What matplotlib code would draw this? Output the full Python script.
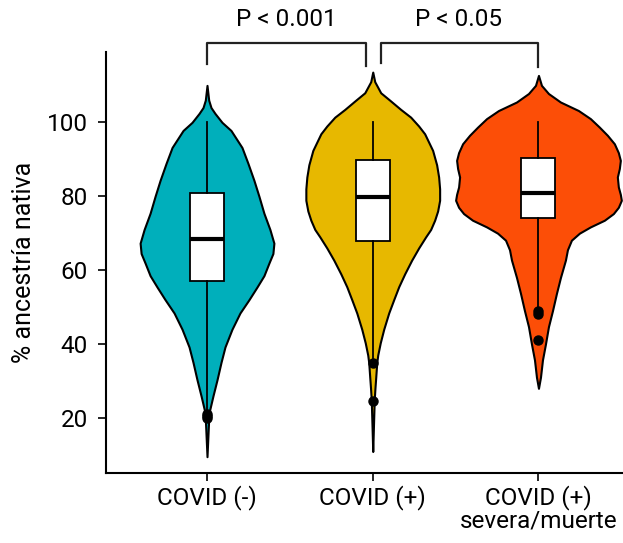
import matplotlib
matplotlib.use("Agg")
import matplotlib.pyplot as plt

plt.rcParams['font.family'] = ['Roboto', 'DejaVu Sans']

# Categories and colours
groups = ["COVID (-)", "COVID (+)", "COVID (+)\nsevera/muerte"]
colors = ["#00AFBB", "#E7B800", "#FC4E07"]

# Violin outlines: value, relative half-width
v1_y = [110.0, 106, 104, 102.4, 100, 97.8, 93.2, 88.9, 84.3, 80, 75.4, 71, 67.3, 64.5,
        61.9, 58.5, 55.4, 52, 48.4, 44, 39.2, 35, 30.3, 26, 21.4, 16.8, 9.5]
v1_w = [0, 1.7, 4, 8, 15, 24, 35, 41, 47, 52, 57, 63, 67, 66,
        62, 57, 50, 42, 33, 25, 18, 14, 10, 6, 2, 1.2, 0]
v2_y = [113.6, 111, 110.5, 108, 106, 103.5, 101.4, 99, 96.9, 92.4, 88.5, 85.2, 82, 78.9,
        76, 73.5, 71, 69.0, 66, 62.7, 59, 55.5, 52, 48.4, 44, 40.3, 37, 34.9, 31, 28,
        24.9, 17.6, 10.9]
v2_w = [0, 2, 3, 8, 17, 28, 38, 46, 52, 60, 64, 66, 67, 67,
        65, 62, 58, 53, 46, 39, 32, 26, 21, 16, 11, 7.5, 5, 4, 3, 2.2,
        1.5, 0.7, 0]
v3_y = [112.7, 110, 107.8, 105.5, 103.2, 101, 98.7, 96.5, 94.2, 91.8, 89.7, 87.5, 85.2,
        82.5, 80.5, 78.9, 77, 75.3, 73.5, 71.7, 70, 68.1, 65.5, 62.7, 58, 53.7, 49,
        44.7, 40, 35.7, 31, 28.0]
v3_w = [0, 3, 10, 22, 40, 52, 61, 69, 76, 80, 82, 81, 79,
        80, 82, 83, 80, 75, 66, 52, 41, 33, 29, 27, 22, 18, 14,
        10, 7, 4, 2, 0]

# Box plot summaries
q1 = [57.0, 67.8, 74.2]
med = [68.3, 79.7, 81.0]
q3 = [80.8, 89.7, 90.4]
whis_lo = [21.5, 35.8, 50.0]
whis_hi = [100.0, 100.0, 100.0]
outliers = [[20.0, 20.5, 21.0], [34.8, 24.5], [49.0, 48.2, 41.2]]

pvals = ["P < 0.001", "P < 0.05"]

fig = plt.figure(figsize=(6.23, 5.43), dpi=100)
ax = fig.add_axes([0.170, 0.129, 0.830, 0.775])

pos = [1, 2, 3]
px_per_unit = 166.0
vstats = []
widths = []
for ys, ws in [(v1_y, v1_w), (v2_y, v2_w), (v3_y, v3_w)]:
    vstats.append({'coords': ys, 'vals': ws, 'mean': 0, 'median': 0,
                   'min': min(ys), 'max': max(ys)})
    widths.append(2 * max(ws) / px_per_unit)

parts = ax.violin(vstats, positions=pos, widths=widths, showmeans=False,
                  showextrema=False, showmedians=False)
for body, c in zip(parts['bodies'], colors):
    body.set_facecolor(c)
    body.set_edgecolor('black')
    body.set_linewidth(1.5)
    body.set_alpha(1)

bstats = []
for i in range(3):
    bstats.append({'q1': q1[i], 'med': med[i], 'q3': q3[i], 'whislo': whis_lo[i],
                   'whishi': whis_hi[i], 'fliers': outliers[i]})
ax.bxp(bstats, positions=pos, widths=0.205, showcaps=False, patch_artist=True,
       boxprops=dict(facecolor='white', edgecolor='black', linewidth=1.3),
       medianprops=dict(color='black', linewidth=3),
       whiskerprops=dict(color='black', linewidth=1.3),
       flierprops=dict(marker='o', markerfacecolor='black', markeredgecolor='black',
                       markersize=6.5))

# significance brackets
ax.plot([1, 1, 1.96, 1.96], [115.8, 121.4, 121.4, 115.3], color='#222222',
        lw=1.6, clip_on=False)
ax.plot([2.05, 2.05, 3, 3], [116.0, 121.4, 121.4, 115.0], color='#222222',
        lw=1.6, clip_on=False)
ax.text(1.48, 124.8, pvals[0], ha='center', va='bottom', fontsize=17.5, clip_on=False)
ax.text(2.52, 124.8, pvals[1], ha='center', va='bottom', fontsize=17.5, clip_on=False)

ax.set_xlim(0.39, 3.51)
ax.set_ylim(5.1, 119)
ax.set_yticks([20, 40, 60, 80, 100])
ax.set_xticks(pos)
ax.set_xticklabels(groups, linespacing=0.95)
ax.tick_params(axis='y', labelsize=17.5, length=6, width=1.2, pad=7)
ax.tick_params(axis='x', labelsize=17.5, length=6, width=1.2, pad=3)
ax.set_ylabel('% ancestría nativa', fontsize=18, labelpad=8)

for s in ['top', 'right']:
    ax.spines[s].set_visible(False)
for s in ['left', 'bottom']:
    ax.spines[s].set_linewidth(1.5)

fig.savefig('out.png', dpi=100)
